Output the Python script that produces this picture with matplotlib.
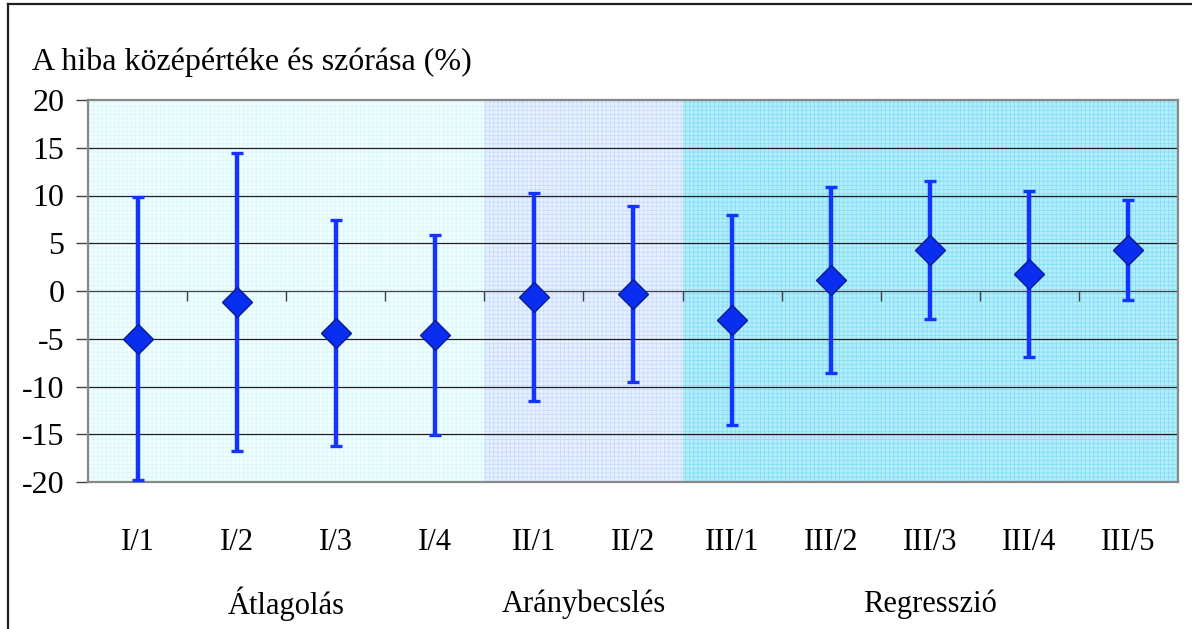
import matplotlib
matplotlib.use("Agg")
import numpy as np
import matplotlib.pyplot as plt
from matplotlib.lines import Line2D

# ======================================================
# DATA
# ======================================================
categories = ["I/1", "I/2", "I/3", "I/4", "II/1", "II/2",
              "III/1", "III/2", "III/3", "III/4", "III/5"]
means = [-5.0, -1.15, -4.4, -4.6, -0.6, -0.3,
         -3.0, 1.15, 4.3, 1.75, 4.3]
stdevs = [14.8, 15.6, 11.8, 10.5, 10.9, 9.2,
          11.0, 9.75, 7.2, 8.7, 5.25]

groups = ["Átlagolás", "Aránybecslés", "Regresszió"]
group_sizes = [4, 2, 5]

title = "A hiba középértéke és szórása (%)"
y_ticks = [-20, -15, -10, -5, 0, 5, 10, 15, 20]

# ======================================================
# STYLE
# ======================================================
plt.rcParams["font.family"] = ["Liberation Serif", "DejaVu Serif"]
plt.rcParams["hatch.linewidth"] = 0.6

group_face = ["#effefe", "#e9f1ff", "#b4eefb"]
group_hatch = ["#dcf8fb", "#c6dcff", "#86def6"]
bar_color = "#1433ff"
marker_face = "#0a2ef0"
marker_edge = "#0a1a90"

fig = plt.figure(figsize=(11.92, 6.29), dpi=100)
ax = fig.add_axes([88 / 1192, 1 - 482 / 629, 1090 / 1192, 382 / 629])

x = np.arange(len(categories))
n = len(categories)

# shaded background per method group
start = 0
for size, face, hcol in zip(group_sizes, group_face, group_hatch):
    ax.axvspan(start - 0.5, start + size - 0.5, facecolor=face,
               edgecolor=hcol, hatch="++++", linewidth=0, zorder=0)
    start += size

# horizontal gridlines
for yv in y_ticks[1:-1]:
    ax.axhline(yv, color="#202020" if yv != 0 else "#404040",
               linewidth=0.9, zorder=1)

# tick marks on the zero line between categories
ax.vlines(x[:-1] + 0.5, -1.0, 0, color="#404040", linewidth=1.0, zorder=1)

# mean +/- standard deviation
ax.errorbar(x, means, yerr=stdevs, fmt="none", ecolor=bar_color,
            elinewidth=3.2, capsize=4.5, capthick=2.4, zorder=3)
ax.plot(x, means, linestyle="none", marker="D", markersize=15.5,
        markerfacecolor=marker_face, markeredgecolor=marker_edge,
        markeredgewidth=1.0, zorder=4)

ax.set_xlim(-0.5, n - 0.5)
ax.set_ylim(-20, 20)
ax.set_yticks(y_ticks)
ax.set_yticklabels([str(v) for v in y_ticks], fontsize=23)
ax.tick_params(axis="y", direction="out", length=9, width=1.0,
               color="#404040", pad=8)

ax.set_xticks(x)
ax.set_xticklabels(categories, fontsize=22)
ax.tick_params(axis="x", length=0, pad=33)

for spine in ax.spines.values():
    spine.set_color("#888888")
    spine.set_linewidth(1.6)

# group names under the category labels
start = 0
for size, name in zip(group_sizes, groups):
    center = start + (size - 1) / 2
    ax.text(center, -0.32, name, transform=ax.get_xaxis_transform(),
            ha="center", va="center", fontsize=22)
    start += size

fig.text(32 / 1192, 1 - 62 / 629, title, ha="left", va="center", fontsize=23)

# outer chart frame
fig.add_artist(Line2D([8 / 1192, 8 / 1192], [0, 1 - 4 / 629],
                      transform=fig.transFigure, color="#202020", linewidth=1.6))
fig.add_artist(Line2D([8 / 1192, 1], [1 - 4 / 629, 1 - 4 / 629],
                      transform=fig.transFigure, color="#202020", linewidth=1.6))

fig.savefig("out.png", dpi=100)
plt.close(fig)
